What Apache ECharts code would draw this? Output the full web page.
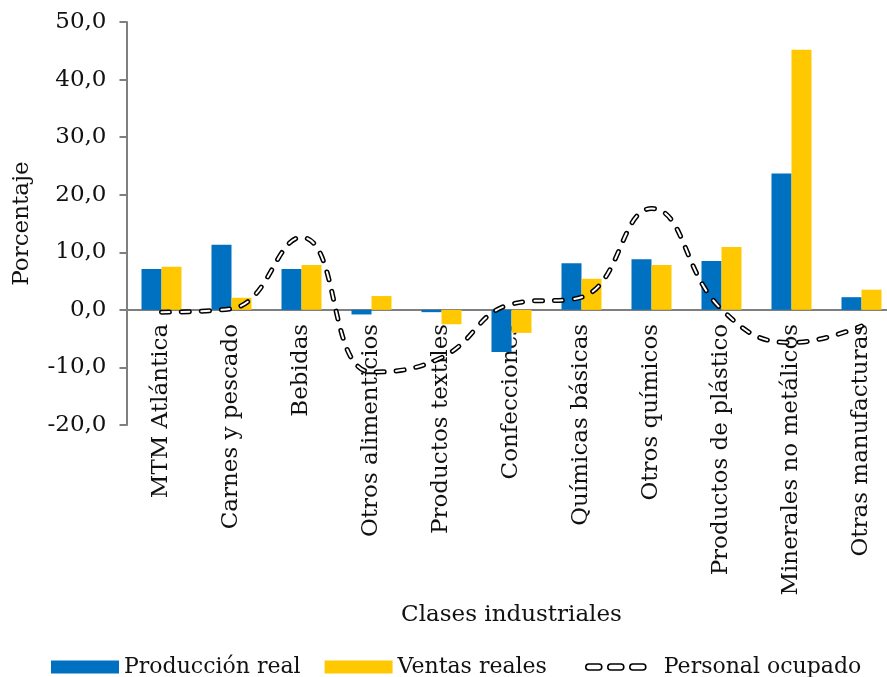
<!DOCTYPE html>
<html>
<head>
<meta charset="utf-8">
<script src="https://cdn.jsdelivr.net/npm/echarts@6/dist/echarts.min.js"></script>
<style>
  html, body { margin: 0; padding: 0; background: #fff; }
  #chart { width: 887px; height: 677px; }
</style>
</head>
<body>
<div id="chart"></div>
<script>
var categories = ['MTM Atlántica', 'Carnes y pescado', 'Bebidas', 'Otros alimenticios',
  'Productos textiles', 'Confecciones', 'Químicas básicas', 'Otros químicos',
  'Productos de plástico', 'Minerales no metálicos', 'Otras manufacturas'];
var produccion = [7.1, 11.3, 7.1, -0.8, -0.4, -7.3, 8.1, 8.8, 8.5, 23.7, 2.2];
var ventas = [7.5, 2.1, 7.8, 2.4, -2.5, -4.0, 5.4, 7.8, 10.9, 45.2, 3.5];
var personal = [-0.4, 0.2, 12.6, -10.8, -8.3, 1.0, 2.2, 17.6, 0.1, -5.7, -2.8];
var yTicks = { min: -20, max: 50, step: 10 };

var FONT = '"DejaVu Serif", "Liberation Serif", serif';
var AXIS_COLOR = '#7f7f7f';
var GRID_TOP = 22, GRID_HEIGHT = 403;
// the category axis sits on the zero line, not at the grid bottom
var zeroOffset = -GRID_HEIGHT * (0 - yTicks.min) / (yTicks.max - yTicks.min);
var chart = echarts.init(document.getElementById('chart'));

// three rounded dashes, outlined, for the legend of the line
var capsules = 'path://M3,0 H13 A3,3 0 0 1 13,6 H3 A3,3 0 0 1 3,0 Z ' +
  'M25,0 H35 A3,3 0 0 1 35,6 H25 A3,3 0 0 1 25,0 Z ' +
  'M47,0 H57 A3,3 0 0 1 57,6 H47 A3,3 0 0 1 47,0 Z';

var legendText = { fontFamily: FONT, fontSize: 22, color: '#111' };

var option = {
  animation: false,
  textStyle: { fontFamily: FONT, color: '#111' },
  grid: {
    left: 126.5, top: GRID_TOP, width: 770, height: GRID_HEIGHT,
    outerBoundsMode: 'none', containLabel: false
  },
  legend: [
    {
      left: 46, top: 651,
      itemWidth: 68, itemHeight: 13, itemGap: 24,
      icon: 'rect',
      textStyle: legendText,
      data: ['Producción real', 'Ventas reales']
    },
    {
      left: 580, top: 651,
      itemWidth: 60, itemHeight: 6,
      symbolKeepAspect: false,
      textStyle: { fontFamily: FONT, fontSize: 22, color: '#111', padding: [0, 0, 0, 13] },
      data: [{
        name: 'Personal ocupado',
        icon: capsules,
        itemStyle: { color: '#fff', borderColor: '#000', borderWidth: 1.6 }
      }]
    }
  ],
  xAxis: {
    type: 'category',
    data: categories,
    offset: zeroOffset,
    name: 'Clases industriales',
    nameLocation: 'middle',
    nameGap: 276,
    nameTextStyle: { fontFamily: FONT, fontSize: 23, color: '#111' },
    axisLine: { onZero: false, lineStyle: { color: AXIS_COLOR, width: 2 } },
    axisTick: { length: 7, lineStyle: { color: AXIS_COLOR, width: 2 } },
    axisLabel: {
      interval: 0, rotate: 90, margin: 14,
      fontFamily: FONT, fontSize: 23, color: '#111'
    }
  },
  yAxis: {
    type: 'value',
    min: yTicks.min, max: yTicks.max, interval: yTicks.step,
    name: 'Porcentaje',
    nameLocation: 'middle',
    nameGap: 93,
    nameTextStyle: { fontFamily: FONT, fontSize: 23, color: '#111' },
    splitLine: { show: false },
    axisLine: { show: true, lineStyle: { color: AXIS_COLOR, width: 2 } },
    axisTick: { show: true, length: 7, lineStyle: { color: AXIS_COLOR, width: 2 } },
    axisLabel: {
      margin: 20, fontFamily: FONT, fontSize: 23, color: '#111',
      formatter: function(v){
        return v.toFixed(1).replace('.', ',')
      }
    }
  },
  series: [
    {
      name: 'Producción real', type: 'bar', data: produccion,
      barWidth: 20, barGap: '0%',
      itemStyle: { color: '#0070C0' }
    },
    {
      name: 'Ventas reales', type: 'bar', data: ventas,
      barWidth: 20, barGap: '0%',
      itemStyle: { color: '#FFC800' }
    },
    {
      name: 'Personal ocupado', type: 'line', data: personal,
      smooth: 0.45, symbol: 'none', z: 5,
      lineStyle: { color: '#000', width: 5, type: [8, 12], cap: 'round' }
    },
    {
      name: 'Personal ocupado (relleno)', type: 'line', data: personal,
      smooth: 0.45, symbol: 'none', z: 6, silent: true,
      lineStyle: { color: '#fff', width: 2, type: [8, 12], cap: 'round' }
    }
  ]
};

chart.setOption(option);
</script>
</body>
</html>
